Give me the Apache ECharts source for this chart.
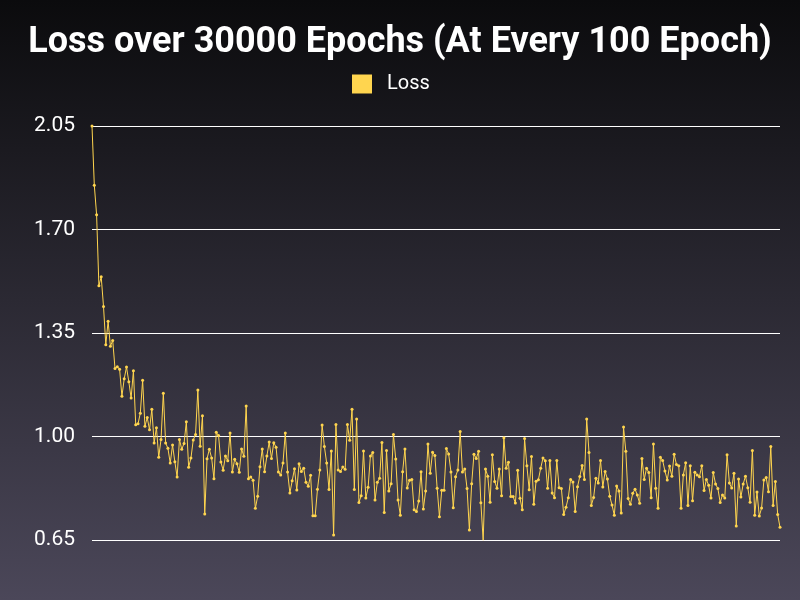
<!DOCTYPE html>
<html>
<head>
<meta charset="utf-8">
<script src="https://cdn.jsdelivr.net/npm/echarts@6/dist/echarts.min.js"></script>
<style>
html,body{margin:0;padding:0;}
#c{width:800px;height:600px;}
</style>
</head>
<body>
<div id="c"></div>
<script>
const titleText = "Loss over 30000 Epochs (At Every 100 Epoch)";
const seriesName = "Loss";
const yTicks = [0.65, 1.00, 1.35, 1.70, 2.05];
const lossValues = [
2.05,1.85,1.75,1.51,1.54,1.44,1.31,1.39,1.305,1.325,
1.23,1.236,1.227,1.136,1.195,1.235,1.185,1.13,1.222,1.04,
1.043,1.079,1.19,1.035,1.064,1.023,1.092,0.978,1.03,0.93,
0.99,1.146,0.978,0.96,0.91,0.971,0.915,0.863,0.99,0.957,
0.976,1.05,0.896,0.927,0.988,1.007,1.157,0.967,1.07,0.738,
0.925,0.957,0.927,0.857,1.014,1.003,0.914,0.886,0.934,0.918,
1.012,0.88,0.923,0.908,0.879,0.958,0.933,1.103,0.857,0.863,
0.852,0.757,0.798,0.898,0.958,0.881,0.934,0.981,0.926,0.979,
0.964,0.88,0.87,0.91,1.012,0.88,0.809,0.85,0.891,0.819,
0.908,0.882,0.893,0.845,0.832,0.869,0.732,0.732,0.822,0.887,
1.039,0.966,0.91,0.821,0.951,0.667,1.041,0.887,0.882,0.897,
0.889,1.041,0.987,1.092,0.821,1.059,0.777,0.8,0.951,0.792,
0.828,0.934,0.946,0.785,0.845,0.859,0.98,0.743,0.953,0.816,
0.84,1.007,0.924,0.785,0.734,0.881,0.958,0.826,0.852,0.855,
0.752,0.746,0.782,0.881,0.755,0.816,0.975,0.876,0.947,0.936,
0.825,0.729,0.818,0.818,0.959,0.941,0.88,0.759,0.864,0.887,
1.017,0.88,0.89,0.824,0.684,0.84,0.94,0.926,0.95,0.776,
0.649,0.89,0.866,0.778,0.938,0.848,0.825,0.89,0.8,0.996,
0.893,0.913,0.797,0.797,0.775,0.886,0.791,0.752,0.993,0.901,
0.82,0.932,0.771,0.849,0.854,0.893,0.927,0.918,0.825,0.919,
0.809,0.793,0.919,0.827,0.824,0.736,0.761,0.793,0.855,0.846,
0.746,0.83,0.865,0.902,0.855,1.059,0.946,0.767,0.794,0.859,
0.843,0.919,0.829,0.882,0.856,0.798,0.768,0.734,0.833,0.816,
0.741,1.032,0.95,0.79,0.771,0.808,0.822,0.802,0.774,0.926,
0.855,0.893,0.878,0.793,0.975,0.825,0.757,0.93,0.919,0.883,
0.853,0.9,0.866,0.94,0.905,0.901,0.757,0.87,0.911,0.767,
0.901,0.783,0.879,0.87,0.864,0.901,0.817,0.855,0.835,0.792,
0.878,0.839,0.824,0.777,0.802,0.792,0.938,0.843,0.826,0.876,
0.697,0.856,0.795,0.839,0.866,0.827,0.778,0.953,0.734,0.812,
0.731,0.758,0.853,0.861,0.813,0.966,0.767,0.848,0.736,0.693
];
const epochs = lossValues.map((v, i) => String((i + 1) * 100));

const chart = echarts.init(document.getElementById('c'));
chart.setOption({
  backgroundColor: new echarts.graphic.LinearGradient(0, 0, 0, 1, [
    {offset: 0, color: '#0b0b0d'},
    {offset: 1, color: '#4b4759'}
  ]),
  animation: false,
  title: {
    text: titleText,
    left: 'center',
    top: 20,
    textStyle: {color: '#ffffff', fontSize: 36, fontWeight: 'bold', fontFamily: 'Roboto'}
  },
  legend: {
    data: [seriesName],
    top: 69,
    left: 347,
    icon: 'rect',
    itemWidth: 20,
    itemHeight: 19,
    itemGap: 10,
    textStyle: {color: '#ffffff', fontSize: 20, fontFamily: 'Roboto', padding: [0, 0, 0, 10]}
  },
  grid: {left: 92, right: 20, top: 126, bottom: 60, containLabel: false},
  xAxis: {
    type: 'category',
    data: epochs,
    boundaryGap: false,
    axisLine: {show: false},
    axisTick: {show: false},
    axisLabel: {show: false},
    splitLine: {show: false}
  },
  yAxis: {
    type: 'value',
    min: yTicks[0],
    max: yTicks[yTicks.length - 1],
    interval: yTicks[1] - yTicks[0],
    axisLine: {show: false},
    axisTick: {show: false},
    axisLabel: {
      color: '#ffffff', fontSize: 21, fontFamily: 'Roboto', margin: 17,
      formatter: v => v.toFixed(2)
    },
    splitLine: {lineStyle: {color: '#ffffff', width: 1}}
  },
  series: [{
    name: seriesName,
    type: 'line',
    data: lossValues,
    symbol: 'circle',
    symbolSize: 3,
    showSymbol: true,
    showAllSymbol: true,
    lineStyle: {color: '#ffd54f', width: 1},
    itemStyle: {color: '#ffd54f'}
  }]
});
</script>
</body>
</html>
